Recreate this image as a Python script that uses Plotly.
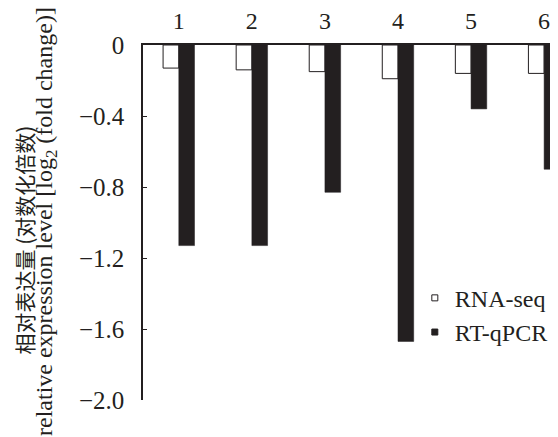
import plotly.graph_objects as go

genes = ["1", "2", "3", "4", "5", "6"]
rna_seq = [-0.13, -0.14, -0.15, -0.19, -0.16, -0.16]
rt_qpcr = [-1.13, -1.13, -0.83, -1.67, -0.36, -0.70]
y_ticks = [0, -0.4, -0.8, -1.2, -1.6, -2.0]
y_ticktext = ["0", "\u22120.4", "\u22120.8", "\u22121.2", "\u22121.6", "\u22122.0"]
title_cn = "相对表达量 (对数化倍数)"
title_en = "relative expression level [log<sub>2</sub> (fold change)]"

ink = "#231f20"
font_family = "Liberation Serif, Times New Roman, Noto Sans CJK SC, serif"

fig = go.Figure()
fig.add_trace(go.Bar(x=genes, y=rna_seq, name="RNA-seq", showlegend=False,
                     marker=dict(color="white", line=dict(color=ink, width=1))))
fig.add_trace(go.Bar(x=genes, y=rt_qpcr, name="RT-qPCR", showlegend=False,
                     marker=dict(color=ink, line=dict(color=ink, width=0.5))))
# legend entries with small square symbols
fig.add_trace(go.Scatter(x=[None], y=[None], mode="markers", name="RNA-seq",
                         marker=dict(symbol="square", size=6, color="white",
                                     line=dict(color=ink, width=1))))
fig.add_trace(go.Scatter(x=[None], y=[None], mode="markers", name="RT-qPCR",
                         marker=dict(symbol="square", size=6, color=ink,
                                     line=dict(color=ink, width=1))))

# page body has an 8px margin, so the figure is laid out 8px smaller
OFF = 8
W, H = 558 - OFF, 437 - OFF
ML, MT, MB = 143 - OFF, 45 - OFF, 437 - 400
PH = H - MT - MB

def px(x):
    return (x - OFF - ML) / (W - ML)

def py(y):
    return 1 - (y - OFF - MT) / PH

fig.update_layout(
    width=W, height=H,
    margin=dict(l=ML, r=0, t=MT, b=MB, autoexpand=False),
    paper_bgcolor="white", plot_bgcolor="white",
    font=dict(family=font_family, size=25, color=ink),
    barmode="group", bargap=0.57, bargroupgap=0,
    legend=dict(x=0.655, y=0.35, xanchor="left", yanchor="top",
                bgcolor="rgba(0,0,0,0)", font=dict(size=24),
                itemwidth=30),
    xaxis=dict(side="top", type="category", range=[-0.49, 5.19],
               showline=True, linecolor=ink, linewidth=1.5,
               ticks="", showgrid=False, zeroline=False, automargin=False,
               tickfont=dict(size=24), ticklabelstandoff=5),
    yaxis=dict(range=[-2.0, 0], tickvals=y_ticks, ticktext=y_ticktext,
               showline=True, linecolor=ink, linewidth=1.5,
               ticks="inside", ticklen=4, tickcolor=ink, tickwidth=1,
               showgrid=False, zeroline=False, automargin=False,
               tickfont=dict(size=25), ticklabelstandoff=12),
    annotations=[
        dict(text=title_cn, textangle=-90, xref="paper", yref="paper",
             x=px(23.5), y=py(240),
             xanchor="center", yanchor="middle", showarrow=False,
             font=dict(size=21, family="Noto Sans CJK SC, Liberation Serif, serif")),
        dict(text=title_en, textangle=-90, xref="paper", yref="paper",
             x=px(46), y=py(222),
             xanchor="center", yanchor="middle", showarrow=False,
             font=dict(size=24)),
    ],
)

fig.write_html("out.html")
